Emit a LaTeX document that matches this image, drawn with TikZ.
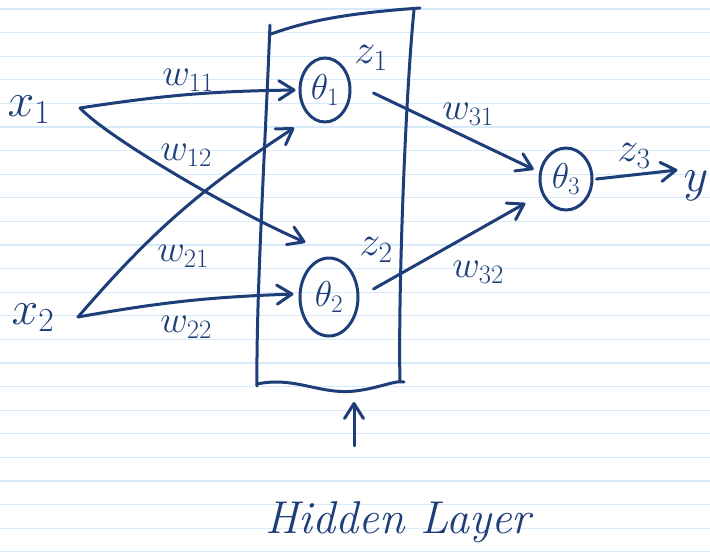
\RequirePackage{fix-cm}
\documentclass[tikz,border=0pt]{standalone}
\usetikzlibrary{shapes.geometric,arrows.meta,calc}
\definecolor{ink}{RGB}{30,62,122}
\definecolor{paperline}{RGB}{214,234,250}
\begin{document}
\begin{tikzpicture}[x=1pt,y=-1pt,
  pen/.style={draw=ink,line width=3pt,line cap=round,line join=round},
  arr/.style={pen,-{Straight Barb[round,length=15pt,width=19pt]}},
  lab/.style={text=ink,inner sep=0pt,font=\fontsize{38}{38}\selectfont},
  big/.style={lab,font=\fontsize{48}{48}\selectfont},
  zlab/.style={lab,font=\fontsize{42}{42}\selectfont},
  neuron/.style={ellipse,pen,inner sep=0pt,text=ink,font=\fontsize{36}{36}\selectfont},
  rule/.style={draw=paperline,line width=1.1pt}]
\fill[white] (0,0) rectangle (710,558);
\useasboundingbox (0,0) rectangle (710,558);
% ruled paper
\foreach \k in {0,...,23}{\draw[rule] (0,{9+23.6*\k}) -- (710,{9+23.6*\k});}
% hidden layer box
\draw[pen] (270,25) .. controls (265,150) and (256,300) .. (257,386);
\draw[pen] (271,34) .. controls (310,20) and (350,13) .. (420,8);
\draw[pen] (414,10) .. controls (405,100) and (398,300) .. (400,382);
\draw[pen] (257,384) .. controls (295,376) and (320,395) .. (355,391) .. controls (380,388) and (395,380) .. (404,382);
\coordinate (boxb) at (354,402);
% nodes
\node[big] (x1) at (29,110) {$x_1$};
\node[big] (x2) at (33,318) {$x_2$};
\node[neuron,minimum width=50pt,minimum height=64pt] (t1) at (325,90) {$\theta_1$};
\node[neuron,minimum width=58pt,minimum height=78pt] (t2) at (329,297) {$\theta_2$};
\node[neuron,minimum width=52pt,minimum height=62pt] (t3) at (566,179) {$\theta_3$};
\node[zlab] (z1) at (371,58) {$z_1$};
\node[zlab] (z2) at (376,250) {$z_2$};
\node[zlab] (z3) at (634,156) {$z_3$};
\node[big] (yv) at (696,186) {$y$};
\node[lab] (w11) at (188,80) {$w_{11}$};
\node[lab] (w12) at (186,155) {$w_{12}$};
\node[lab] (w21) at (183,256) {$w_{21}$};
\node[lab] (w22) at (186,327) {$w_{22}$};
\node[lab] (w31) at (468,114) {$w_{31}$};
\node[lab] (w32) at (478,272) {$w_{32}$};
\node[lab,font=\fontsize{46}{46}\selectfont\itshape,anchor=base] (hl) at (398,533) {Hidden Layer};
% input start points
\coordinate (s1) at (80,108);
\coordinate (s2) at (78,317);
% connectors
\draw[arr,shorten >=3pt] (s1) to[bend left=4] (t1.west);
\draw[arr] (s1) .. controls (108,138) and (235,212) .. ([shift={(-2,-26)}]t2.north west);
\draw[arr] (s2) to[bend left=8] ([shift={(-10,17)}]t1.225);
\draw[arr] (s2) to[bend left=4] ([shift={(-5,-3)}]t2.west);
\draw[arr] ([shift={(22,3)}]t1.east) -- ([shift={(-6,0)}]t3.160);
\draw[arr] ([shift={(14,-8)}]t2.east) -- ([shift={(-16,10)}]t3.210);
\draw[arr] ([shift={(3,0)}]t3.east) -- ([shift={(-6,-16)}]yv.west);
\draw[arr] ([shift={(-44,-55)}]hl.north) -- (boxb);
\end{tikzpicture}
\end{document}
